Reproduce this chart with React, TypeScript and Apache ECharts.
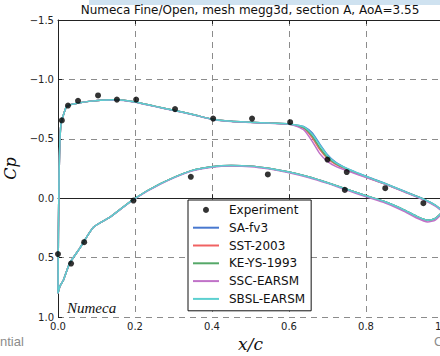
import React, { useEffect, useRef } from 'react';
import * as echarts from 'echarts';

const titleText = 'Numeca Fine/Open, mesh megg3d, section A, AoA=3.55';
const models = ['SA-fv3', 'SST-2003', 'KE-YS-1993', 'SSC-EARSM', 'SBSL-EARSM'];
const modelColors = ['#4878CF', '#F06262', '#55A868', '#C072C8', '#5CD0D0'];

const xTicks = [0, 0.2, 0.4, 0.6, 0.8, 1.0];
const yTicks = [-1.5, -1.0, -0.5, 0.0, 0.5, 1.0];

// Experiment
const expX = [0, 0.01, 0.026, 0.052, 0.104, 0.153, 0.203, 0.304, 0.403, 0.504, 0.603, 0.70, 0.75, 0.85, 0.949, 0.034, 0.068, 0.196, 0.345, 0.545, 0.745];
const expCp = [0.47, -0.655, -0.78, -0.82, -0.865, -0.83, -0.83, -0.75, -0.67, -0.67, -0.64, -0.325, -0.22, -0.084, 0.042, 0.55, 0.37, 0.02, -0.18, -0.2, -0.07];

// Upper (suction) surface
const xUpper = [0, 0.001, 0.003, 0.005, 0.008, 0.014, 0.022, 0.035, 0.05, 0.08, 0.11, 0.15, 0.2, 0.25, 0.3, 0.35, 0.4, 0.45, 0.5, 0.55, 0.6, 0.62, 0.64, 0.66, 0.68, 0.7, 0.72, 0.75, 0.78, 0.81, 0.85, 0.9, 0.95, 0.98, 1.0];
const cpUpperSA = [0.80, 0.30, -0.23, -0.49, -0.63, -0.70, -0.77, -0.79, -0.80, -0.815, -0.825, -0.828, -0.81, -0.775, -0.74, -0.705, -0.665, -0.648, -0.64, -0.632, -0.625, -0.615, -0.60, -0.55, -0.455, -0.365, -0.305, -0.25, -0.21, -0.172, -0.124, -0.058, 0.008, 0.058, 0.11];
const cpUpperSST = [0.80, 0.30, -0.23, -0.49, -0.63, -0.70, -0.77, -0.79, -0.80, -0.815, -0.825, -0.828, -0.81, -0.775, -0.74, -0.705, -0.665, -0.648, -0.64, -0.632, -0.624, -0.61, -0.585, -0.51, -0.41, -0.335, -0.288, -0.24, -0.202, -0.166, -0.119, -0.054, 0.011, 0.061, 0.11];
const cpUpperKE = [0.80, 0.30, -0.23, -0.49, -0.63, -0.70, -0.77, -0.79, -0.80, -0.815, -0.825, -0.828, -0.81, -0.775, -0.74, -0.705, -0.665, -0.648, -0.64, -0.632, -0.625, -0.612, -0.59, -0.525, -0.425, -0.345, -0.295, -0.245, -0.205, -0.168, -0.12, -0.055, 0.01, 0.06, 0.11];
const cpUpperSSC = [0.80, 0.30, -0.23, -0.49, -0.63, -0.70, -0.77, -0.79, -0.80, -0.815, -0.824, -0.826, -0.808, -0.773, -0.738, -0.703, -0.663, -0.646, -0.638, -0.63, -0.622, -0.605, -0.57, -0.48, -0.375, -0.31, -0.27, -0.232, -0.198, -0.163, -0.117, -0.052, 0.015, 0.066, 0.115];
const cpUpperSBSL = [0.80, 0.30, -0.23, -0.49, -0.63, -0.70, -0.77, -0.79, -0.80, -0.815, -0.825, -0.828, -0.81, -0.775, -0.74, -0.705, -0.665, -0.648, -0.64, -0.632, -0.625, -0.615, -0.598, -0.54, -0.448, -0.36, -0.302, -0.25, -0.21, -0.171, -0.123, -0.057, 0.009, 0.059, 0.11];

// Lower (pressure) surface
const xLower = [0, 0.005, 0.014, 0.03, 0.057, 0.092, 0.135, 0.196, 0.265, 0.345, 0.4, 0.45, 0.5, 0.55, 0.6, 0.65, 0.7, 0.75, 0.8, 0.85, 0.9, 0.93, 0.96, 0.98, 1.0];
const cpLowerSA = [0.80, 0.74, 0.69, 0.55, 0.42, 0.245, 0.16, 0.01, -0.12, -0.23, -0.265, -0.275, -0.27, -0.25, -0.22, -0.18, -0.13, -0.075, -0.02, 0.03, 0.10, 0.15, 0.185, 0.17, 0.11];
const cpLowerSST = [0.80, 0.74, 0.69, 0.55, 0.42, 0.245, 0.16, 0.01, -0.12, -0.23, -0.265, -0.275, -0.27, -0.25, -0.22, -0.18, -0.13, -0.075, -0.02, 0.032, 0.102, 0.152, 0.187, 0.172, 0.11];
const cpLowerKE = [0.80, 0.74, 0.69, 0.55, 0.42, 0.245, 0.16, 0.01, -0.12, -0.23, -0.265, -0.275, -0.27, -0.25, -0.22, -0.18, -0.13, -0.075, -0.02, 0.03, 0.10, 0.15, 0.185, 0.17, 0.11];
const cpLowerSSC = [0.80, 0.74, 0.69, 0.55, 0.42, 0.245, 0.16, 0.012, -0.117, -0.226, -0.26, -0.27, -0.265, -0.245, -0.215, -0.175, -0.125, -0.068, -0.012, 0.04, 0.112, 0.165, 0.2, 0.185, 0.12];
const cpLowerSBSL = [0.80, 0.74, 0.69, 0.55, 0.42, 0.245, 0.16, 0.01, -0.12, -0.23, -0.265, -0.275, -0.27, -0.25, -0.22, -0.18, -0.13, -0.075, -0.02, 0.03, 0.10, 0.15, 0.185, 0.17, 0.11];

const upperByModel = [cpUpperSA, cpUpperSST, cpUpperKE, cpUpperSSC, cpUpperSBSL];
const lowerByModel = [cpLowerSA, cpLowerSST, cpLowerKE, cpLowerSSC, cpLowerSBSL];

const fmt = (v: number) => (v < 0 ? '\u2212' : '') + Math.abs(v).toFixed(1);

export default function App() {
  const ref = useRef<HTMLDivElement>(null);
  useEffect(() => {
    document.body.style.margin = '0';
    const chart = echarts.init(ref.current!, null, { renderer: 'svg' });
    const loop = (cu: number[], cl: number[]) => [
      ...xUpper.map((x, i) => [x, cu[i]]).reverse(),
      ...xLower.map((x, i) => [x, cl[i]]),
    ];
    const labelStyle = { fontSize: 10, color: '#222', fontFamily: 'DejaVu Sans' };
    const splitLine = { show: true, lineStyle: { type: [6, 5] as any, color: '#8c8c8c', width: 1 } };
    const option: any = {
      animation: false,
      backgroundColor: '#fff',
      title: {
        text: titleText,
        left: 250,
        top: 4,
        textAlign: 'center',
        padding: 0,
        textStyle: { fontSize: 12, fontWeight: 'normal', color: '#111', fontFamily: 'DejaVu Sans' },
      },
      grid: { left: 58, top: 20, width: 385, height: 297, show: false, outerBoundsMode: 'none', containLabel: false },
      legend: {
        orient: 'vertical',
        left: 188,
        top: 200,
        itemWidth: 26,
        itemHeight: 6,
        itemGap: 0,
        padding: [1, 6, 3, 4],
        borderColor: '#111',
        borderWidth: 1,
        borderRadius: 0,
        backgroundColor: '#fff',
        z: 10,
        textStyle: { fontSize: 12, color: '#111', fontFamily: 'DejaVu Sans', lineHeight: 17.8, padding: [0, 0, 0, 5] },
        data: [
          { name: 'Experiment' },
          ...models.map((m) => ({ name: m, itemStyle: { opacity: 0 } })),
        ],
      },
      xAxis: [
        {
          type: 'value', min: 0, max: 1, interval: 0.2,
          name: 'x/c', nameLocation: 'middle', nameGap: 18,
          nameTextStyle: { fontFamily: 'DejaVu Serif', fontStyle: 'italic', fontSize: 17, color: '#111' },
          axisLine: { show: true, lineStyle: { color: '#222', width: 1 } },
          axisTick: { show: true, inside: true, length: 4, lineStyle: { color: '#222' } },
          axisLabel: { ...labelStyle, margin: 4, formatter: (v: number) => fmt(v), customValues: xTicks },
          splitLine,
        },
        {
          type: 'value', min: 0, max: 1, interval: 0.2, position: 'top',
          axisLine: { show: true, lineStyle: { color: '#222', width: 1 } },
          axisTick: { show: true, inside: true, length: 4, lineStyle: { color: '#222' } },
          axisLabel: { show: false },
          splitLine: { show: false },
        },
      ],
      yAxis: {
        type: 'value', inverse: true, min: -1.5, max: 1.0, interval: 0.5,
        name: 'Cp', nameLocation: 'middle', nameGap: 28, nameRotate: 90,
        nameTextStyle: { fontFamily: 'DejaVu Serif', fontStyle: 'italic', fontSize: 16, color: '#111' },
        axisLine: { show: true, lineStyle: { color: '#222', width: 1 } },
        axisTick: { show: true, inside: true, length: 4, lineStyle: { color: '#222' } },
        axisLabel: { ...labelStyle, margin: 4, formatter: (v: number) => fmt(v), customValues: yTicks },
        splitLine,
      },
      series: [
        {
          name: 'Experiment', type: 'scatter', symbol: 'circle', symbolSize: 6, z: 5,
          itemStyle: { color: '#000' },
          data: expX.map((x, i) => [x, expCp[i]]),
        },
        ...models.map((m, k) => ({
          name: m, type: 'line', symbol: 'none', showSymbol: false, smooth: 0.2, z: 2 + k * 0.1,
          color: modelColors[k],
          lineStyle: { color: modelColors[k], width: 1.5 },
          data: loop(upperByModel[k], lowerByModel[k]),
        })),
      ],
      graphic: [
        { type: 'rect', shape: { x: 89, y: 0, width: 351, height: 5 }, style: { fill: '#cfe2f0' }, z: 0 },
        { type: 'text', x: 67, y: 308, style: { text: 'Numeca', font: 'italic 15px "Liberation Serif"', fill: '#111', verticalAlign: 'middle' }, z: 20 },
        { type: 'text', x: 0, y: 341, style: { text: 'ntial', font: '13px "Liberation Sans"', fill: '#8c8c8c', verticalAlign: 'middle' } },
        { type: 'text', x: 434, y: 341, style: { text: 'C', font: '13px "Liberation Sans"', fill: '#8c8c8c', verticalAlign: 'middle' } },
      ],
    };
    chart.setOption(option);
    return () => chart.dispose();
  }, []);
  return <div ref={ref} style={{ width: 440, height: 356 }} />;
}
